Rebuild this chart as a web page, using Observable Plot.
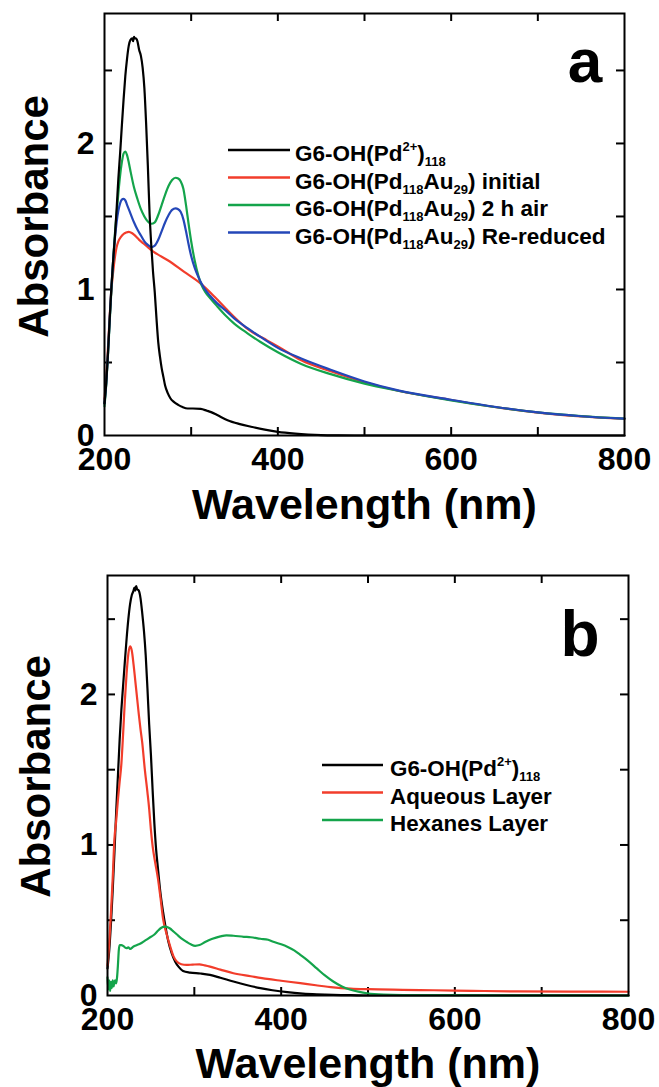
<!DOCTYPE html>
<html><head><meta charset="utf-8">
<script src="https://cdn.jsdelivr.net/npm/d3@7"></script>
<script src="https://cdn.jsdelivr.net/npm/@observablehq/plot@0.6"></script>
<style>
body{margin:0;background:#fff;}
#root{width:659px;}
svg{display:block;}
</style></head><body><div id="root"></div>
<script>
// ---------- tick labels / axis text ----------
const xTickLabels = [200, 400, 600, 800];
const xTickMarks = [300, 400, 500, 600, 700];
const yTickLabels = [0, 1, 2];
const yTickMarks = [0.5, 1, 1.5, 2, 2.5];
const xTitle = "Wavelength (nm)";
const yTitle = "Absorbance";

// ---------- panel a data ----------
const aBlackX = [200,202,204,206,208,210,212,214,216,218,220,222,224,226,228,230,232,233,234,235,236,238,240,242,244,246,248,250,252,254,256,258,260,262,264,266,268,270,273,276,280,285,290,296,302,311,318,323,330,342,355,369,385,400,420,435,450,470,500,600,700,800];
const aBlackY = [0.22,0.36,0.56,0.8,1.02,1.2,1.36,1.55,1.76,1.93,2.12,2.3,2.46,2.58,2.67,2.71,2.72,2.70,2.73,2.72,2.72,2.70,2.64,2.6,2.52,2.38,2.14,1.85,1.52,1.30,1.12,0.98,0.8,0.64,0.54,0.46,0.40,0.34,0.29,0.255,0.23,0.21,0.195,0.185,0.185,0.182,0.17,0.16,0.14,0.105,0.08,0.06,0.04,0.025,0.013,0.007,0.003,0.001,0,0,0,0];

const aRedX = [200,202,204,206,208,210,212,214,216,219,222,225,228,232,236,240,245,250,254,260,273,292,311,327,340,350,365,388,400,427,461,500,540,600,650,700,750,800];
const aRedY = [0.25,0.4,0.6,0.82,1.0,1.12,1.22,1.29,1.33,1.36,1.38,1.39,1.395,1.385,1.365,1.34,1.315,1.29,1.27,1.245,1.20,1.12,1.04,0.95,0.87,0.81,0.73,0.65,0.61,0.515,0.44,0.365,0.305,0.243,0.195,0.157,0.131,0.114];

const aGreenX = [200,202,204,206,208,210,212,214,216,218,220,222,224,226,228,230,234,238,242,246,250,254,258,262,266,270,274,278,282,285,288,291,294,297,300,304,308,312,316,322,330,340,350,365,380,400,427,461,500,540,600,650,700,750,800];
const aGreenY = [0.2,0.35,0.55,0.78,1.0,1.2,1.38,1.52,1.66,1.78,1.87,1.93,1.945,1.92,1.87,1.81,1.70,1.62,1.55,1.50,1.465,1.45,1.46,1.51,1.58,1.65,1.71,1.75,1.765,1.76,1.74,1.69,1.58,1.45,1.33,1.2,1.1,1.03,0.985,0.94,0.885,0.82,0.765,0.70,0.64,0.57,0.49,0.42,0.355,0.305,0.24,0.195,0.158,0.133,0.116];

const aBlueX = [200,202,204,206,208,210,212,214,216,218,220,222,224,226,230,234,238,242,246,250,254,258,262,266,270,274,278,282,285,288,291,294,297,300,304,308,312,316,322,330,340,350,365,380,400,427,461,500,540,600,650,700,750,800];
const aBlueY = [0.22,0.36,0.56,0.8,1.02,1.2,1.35,1.46,1.54,1.59,1.615,1.62,1.61,1.58,1.52,1.46,1.41,1.37,1.33,1.305,1.29,1.30,1.34,1.40,1.46,1.51,1.545,1.555,1.55,1.53,1.48,1.40,1.31,1.23,1.15,1.09,1.04,1.0,0.955,0.905,0.855,0.80,0.735,0.675,0.60,0.527,0.45,0.37,0.307,0.245,0.197,0.158,0.132,0.115];

// ---------- panel b data ----------
const bBlackX = [200,202,204,206,208,210,212,214,216,218,220,222,224,226,228,230,231,232,233,234,236,238,240,242,244,246,248,250,252,254,256,258,261,264,267,270,274,278,282,287,295,307,318,330,345,360,376,390,407,425,441,460,480,500,600,700,800];
const bBlackY = [0.18,0.3,0.48,0.7,0.95,1.22,1.46,1.7,1.9,2.06,2.22,2.37,2.5,2.6,2.66,2.69,2.71,2.69,2.72,2.70,2.69,2.64,2.54,2.42,2.26,2.04,1.8,1.6,1.36,1.14,0.97,0.85,0.68,0.555,0.45,0.36,0.28,0.225,0.19,0.163,0.152,0.146,0.137,0.118,0.093,0.07,0.049,0.035,0.022,0.013,0.008,0.004,0.002,0,0,0,0];

const bRedX = [200,202,204,206,208,210,212,214,216,218,220,222,224,226,228,230,232,234,236,238,240,243,246,248,250,252,255,258,261,264,268,272,276,280,285,291,298,306,312,318,330,345,365,384,400,422,440,460,480,500,540,576,620,672,740,800];
const bRedY = [0.2,0.35,0.55,0.78,1.04,1.16,1.3,1.42,1.54,1.74,1.96,2.14,2.27,2.32,2.29,2.2,2.09,1.98,1.87,1.77,1.68,1.5,1.35,1.24,1.1,0.99,0.88,0.78,0.65,0.51,0.41,0.33,0.26,0.225,0.208,0.203,0.205,0.207,0.2,0.192,0.172,0.148,0.128,0.11,0.098,0.082,0.068,0.054,0.046,0.042,0.038,0.035,0.031,0.027,0.026,0.025];

const bGreenX = [200,201,202,203,204,205,206,207,208,209,210,211,212,213,214,216,218,220,222,224,226,230,234,238,242,246,250,254,258,262,266,268,272,276,280,285,291,296,301,306,313,320,330,337,345,357,365,376,385,391,400,407,415,422,430,441,450,460,470,480,490,499,518,540,600,700,800];
const bGreenY = [0.12,0.04,0.1,0.03,0.09,0.05,0.1,0.06,0.09,0.1,0.08,0.12,0.2,0.3,0.335,0.335,0.33,0.32,0.315,0.32,0.31,0.325,0.335,0.345,0.36,0.375,0.39,0.405,0.43,0.45,0.458,0.456,0.445,0.425,0.405,0.38,0.357,0.34,0.33,0.335,0.357,0.375,0.393,0.40,0.397,0.39,0.387,0.377,0.37,0.357,0.34,0.324,0.3,0.27,0.235,0.18,0.135,0.093,0.06,0.038,0.024,0.015,0.006,0.003,0.002,0.001,0];

// ---------- legends ----------
const legendA = [
  {color: "#000000", parts: [["G6-OH(Pd"], ["2+", "sup"], [")"], ["118", "sub"]]},
  {color: "#f23d2b", parts: [["G6-OH(Pd"], ["118", "sub"], ["Au"], ["29", "sub"], [") initial"]]},
  {color: "#14a44b", parts: [["G6-OH(Pd"], ["118", "sub"], ["Au"], ["29", "sub"], [") 2 h air"]]},
  {color: "#2447b8", parts: [["G6-OH(Pd"], ["118", "sub"], ["Au"], ["29", "sub"], [") Re-reduced"]]}
];
const legendB = [
  {color: "#000000", parts: [["G6-OH(Pd"], ["2+", "sup"], [")"], ["118", "sub"]]},
  {color: "#f23d2b", parts: [["Aqueous Layer"]]},
  {color: "#14a44b", parts: [["Hexanes Layer"]]}
];

const FONT = '"Liberation Sans", Arial, Helvetica, sans-serif';

function toRows(xs, ys) { return xs.map((x, i) => ({wl: x, abs: ys[i]})); }

function panel(cfg) {
  const W = 659;
  const plotH = cfg.height - cfg.mt - cfg.mb;
  const plotW = W - cfg.ml - cfg.mr;
  const TL = 8;
  const lineMarks = cfg.series.map(s => Plot.line(toRows(s.x, s.y), {x: "wl", y: "abs", stroke: s.color, strokeWidth: 2.2, curve: "monotone-x"}));
  const chart = Plot.plot({
    width: W, height: cfg.height,
    marginTop: cfg.mt, marginBottom: cfg.mb, marginLeft: cfg.ml, marginRight: cfg.mr,
    style: {fontFamily: FONT, fontWeight: "bold", fontSize: "32px", color: "#000", background: "#fff", overflow: "visible"},
    x: {domain: [200, 800], label: null},
    y: {domain: [0, cfg.ymax], label: null},
    marks: [
      Plot.tickX(xTickMarks, {x: d => d, insetTop: plotH - TL, stroke: "#000", strokeWidth: 2}),
      Plot.tickX(xTickMarks, {x: d => d, insetBottom: plotH - TL, stroke: "#000", strokeWidth: 2}),
      Plot.tickY(yTickMarks, {y: d => d, insetRight: plotW - TL, stroke: "#000", strokeWidth: 2}),
      Plot.tickY(yTickMarks, {y: d => d, insetLeft: plotW - TL, stroke: "#000", strokeWidth: 2}),
      ...lineMarks,
      Plot.frame({stroke: "#000", strokeWidth: 2}),
      Plot.axisX({ticks: xTickLabels, tickSize: 0, tickPadding: 12, tickFormat: d => String(d), label: null, fontSize: 32, fontWeight: "bold"}),
      Plot.axisY({ticks: yTickLabels, tickSize: 0, tickPadding: 10, tickFormat: d => String(d), label: null, fontSize: 32, fontWeight: "bold"}),
      Plot.text([xTitle], {text: d => d, frameAnchor: "bottom", textAnchor: "middle", lineAnchor: "middle", dy: cfg.xTitleDy, fontSize: 43, fontWeight: "bold", fill: "#000"}),
      Plot.text([yTitle], {text: d => d, frameAnchor: "left", textAnchor: "middle", lineAnchor: "middle", rotate: -90, dx: cfg.yTitleDx, dy: cfg.yTitleDy, fontSize: 42, fontWeight: "bold", fill: "#000"}),
      Plot.text([cfg.tag], {text: d => d, frameAnchor: "top-right", textAnchor: "middle", lineAnchor: "middle", dx: cfg.tagDx, dy: cfg.tagDy, fontSize: cfg.tagSize, fontWeight: "bold", fill: "#000"})
    ]
  });
  // legend
  const g = d3.select(chart).append("g").attr("font-family", FONT).attr("font-weight", "bold").attr("fill", "#000").attr("text-anchor", "start");
  const L = cfg.legend;
  cfg.legendItems.forEach((it, i) => {
    const y = L.y0 + i * L.step;
    g.append("line").attr("x1", L.x0).attr("x2", L.x0 + L.len).attr("y1", y).attr("y2", y)
      .attr("stroke", it.color).attr("stroke-width", 2.4);
    const t = g.append("text").attr("x", L.x0 + L.len + L.gap).attr("y", y + L.base).attr("font-size", L.fs).attr("text-anchor", "start");
    let shift = 0;
    it.parts.forEach(p => {
      const target = p[1] === "sub" ? 5 : p[1] === "sup" ? -10 : 0;
      t.append("tspan").attr("dy", target - shift).attr("font-size", p[1] ? 13 : L.fs).text(p[0]);
      shift = target;
    });
  });
  return chart;
}

const root = document.getElementById("root");
root.appendChild(panel({
  height: 545, mt: 13, mb: 110, ml: 104, mr: 35, ymax: 2.89,
  series: [
    {x: aRedX, y: aRedY, color: legendA[1].color},
    {x: aGreenX, y: aGreenY, color: legendA[2].color},
    {x: aBlueX, y: aBlueY, color: legendA[3].color},
    {x: aBlackX, y: aBlackY, color: legendA[0].color}
  ],
  xTitleDy: 70, yTitleDx: -70, yTitleDy: -8,
  tag: "a", tagDx: -39.5, tagDy: 49, tagSize: 62,
  legendItems: legendA,
  legend: {x0: 228, y0: 150, step: 27.5, len: 62, gap: 5, fs: 22.5, base: 11}
}));
root.appendChild(panel({
  height: 542, mt: 30, mb: 92, ml: 107, mr: 31, ymax: 2.79,
  series: [
    {x: bBlackX, y: bBlackY, color: legendB[0].color},
    {x: bRedX, y: bRedY, color: legendB[1].color},
    {x: bGreenX, y: bGreenY, color: legendB[2].color}
  ],
  xTitleDy: 68.6, yTitleDx: -71, yTitleDy: -9,
  tag: "b", tagDx: -48.5, tagDy: 60, tagSize: 64,
  legendItems: legendB,
  legend: {x0: 322, y0: 220, step: 27.5, len: 61, gap: 7, fs: 22.4, base: 11}
}));
</script></body></html>
